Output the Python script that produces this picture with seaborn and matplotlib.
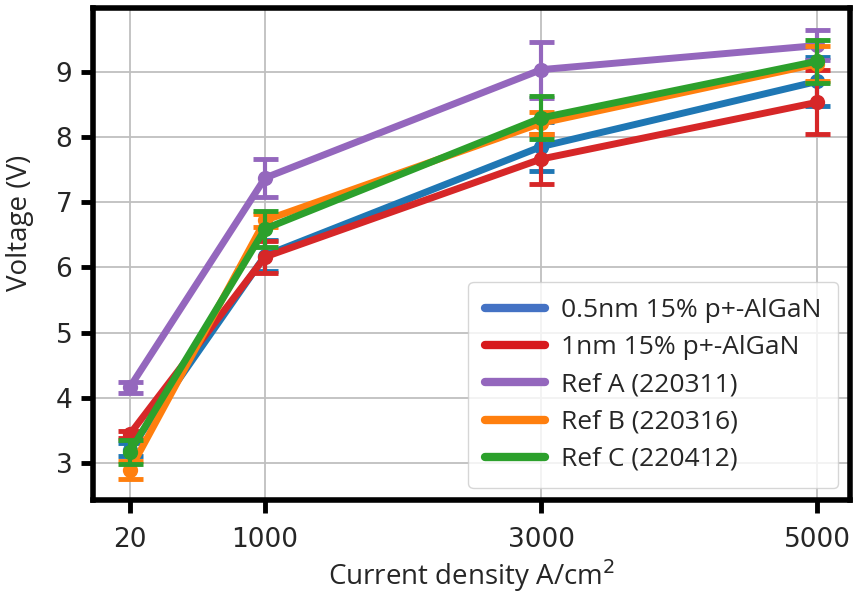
import matplotlib
matplotlib.use("Agg")
import matplotlib.pyplot as plt
from matplotlib.lines import Line2D
import seaborn as sns
import pandas as pd

current = [20, 1000, 3000, 5000]
labels = ["0.5nm 15% p+-AlGaN", "1nm 15% p+-AlGaN", "Ref A (220311)",
          "Ref B (220316)", "Ref C (220412)"]
v_05nm = [3.20, 6.18, 7.85, 8.85]
e_05nm = [0.10, 0.24, 0.38, 0.38]
v_1nm = [3.44, 6.16, 7.66, 8.53]
e_1nm = [0.05, 0.25, 0.38, 0.49]
v_refA = [4.16, 7.37, 9.03, 9.40]
e_refA = [0.08, 0.29, 0.43, 0.23]
v_refB = [2.89, 6.72, 8.21, 9.12]
e_refB = [0.14, 0.10, 0.17, 0.27]
v_refC = [3.17, 6.59, 8.29, 9.16]
e_refC = [0.18, 0.28, 0.33, 0.33]

line_colors = ["#1f77b4", "#d62728", "#9467bd", "#ff7f0e", "#2ca02c"]
legend_colors = ["#4472c4", "#d7191c", "#9467bd", "#ff7f0e", "#2ca02c"]
values = [v_05nm, v_1nm, v_refA, v_refB, v_refC]
errors = [e_05nm, e_1nm, e_refA, e_refB, e_refC]
draw_order = [0, 2, 3, 4, 1]

sns.set_style("whitegrid")
plt.rcParams["font.family"] = ["DejaVu Sans"]

fig = plt.figure(figsize=(8.55, 5.94), dpi=100)
ax = fig.add_axes([0.109, 0.158, 0.885, 0.828])

for i in draw_order:
    df = pd.DataFrame({"x": current, "y": values[i]})
    sns.lineplot(data=df, x="x", y="y", ax=ax, color=line_colors[i],
                 linewidth=5, marker="o", markersize=11,
                 markeredgewidth=0, errorbar=None, zorder=3 + i * 0.1)
    ax.errorbar(current, values[i], yerr=errors[i], fmt="none",
                ecolor=line_colors[i], elinewidth=3, capsize=9,
                capthick=3.5, zorder=3 + i * 0.1)

ax.set_xlim(-245, 5235)
ax.set_ylim(2.43, 9.97)
ax.set_xticks(current)
ax.set_yticks([3, 4, 5, 6, 7, 8, 9])
ax.tick_params(axis="both", labelsize=19, length=9, width=3.5,
               direction="out", color="black", left=True, bottom=True)
ax.tick_params(axis="x", pad=10)
ax.tick_params(axis="y", pad=6)
ax.grid(True, color="#bfbfbf", linewidth=1.3)
for s in ax.spines.values():
    s.set_color("black")
    s.set_linewidth(4)

ax.set_xlabel("Current density A/cm$^{2}$", fontsize=20, family="Open Sans",
              labelpad=3)
ax.set_ylabel("Voltage (V)", fontsize=20, family="Open Sans")
ax.yaxis.set_label_coords(-0.078, 0.563)

handles = [Line2D([0], [0], color=c, linewidth=6) for c in legend_colors]
leg = ax.legend(handles, labels, loc="lower right",
                prop={"family": "Open Sans", "size": 19},
                handlelength=2.3, labelspacing=0.46, borderpad=0.62,
                handletextpad=0.6, borderaxespad=0.45, frameon=True,
                fancybox=True, framealpha=0.8, edgecolor="#cccccc")

fig.savefig("out.png", dpi=100)
